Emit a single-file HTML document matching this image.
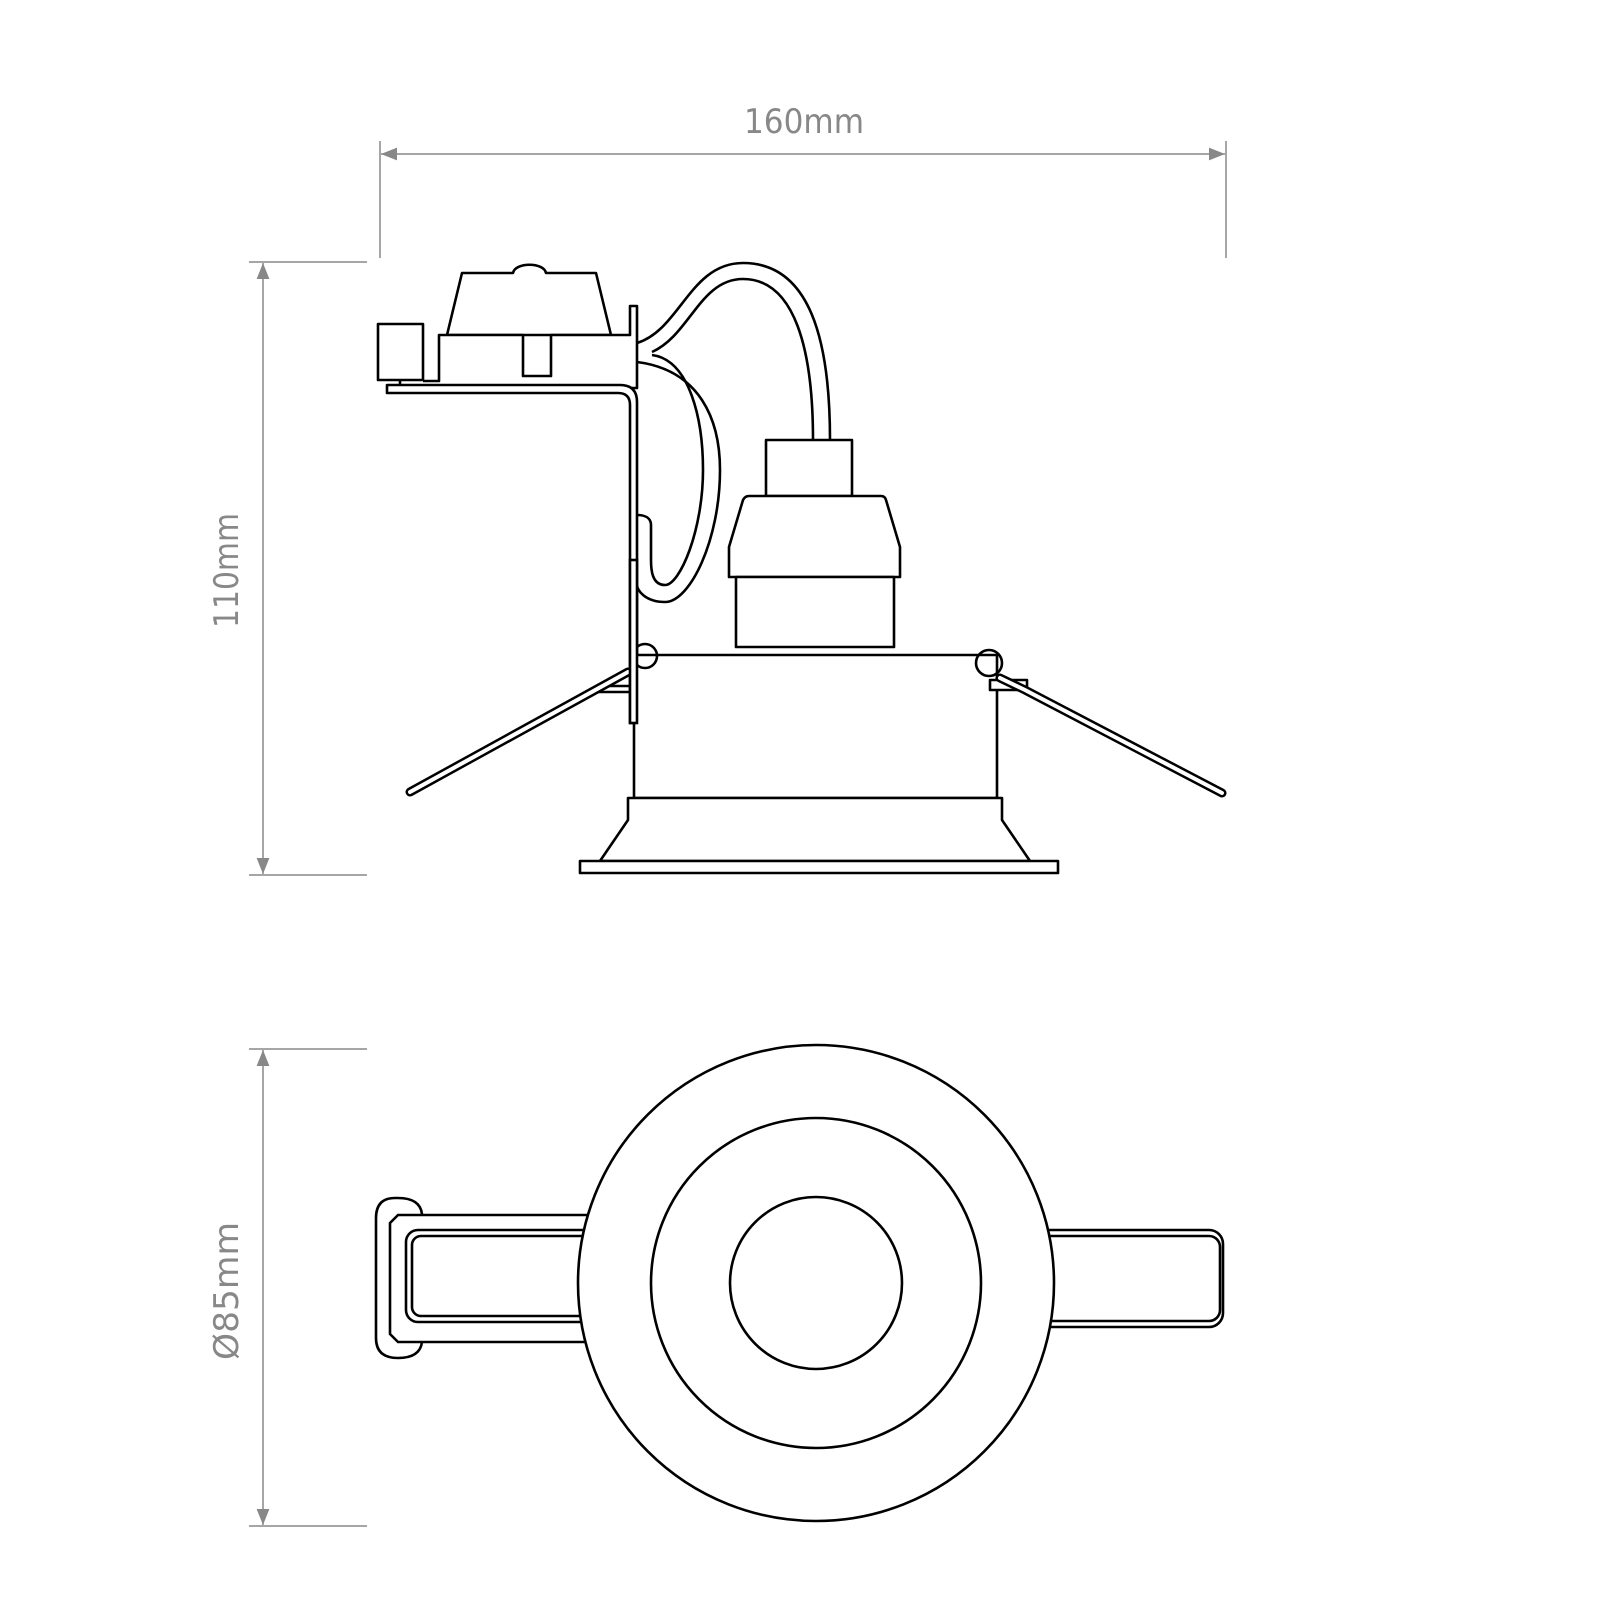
<!DOCTYPE html>
<html><head><meta charset="utf-8"><style>html,body{margin:0;padding:0;background:#fff}svg{display:block}</style></head>
<body>
<svg width="1600" height="1600" viewBox="0 0 1600 1600" xmlns="http://www.w3.org/2000/svg">
<defs>
<marker id="ar" viewBox="0 0 10 10" refX="10" refY="5" markerWidth="16" markerHeight="16" markerUnits="userSpaceOnUse" orient="auto-start-reverse"><path d="M0,1 L10,5 L0,9 Z" fill="#888"/></marker>
</defs>
<g stroke="#888" stroke-width="1.5" fill="none">
<line x1="380" y1="141" x2="380" y2="258"/>
<line x1="1226" y1="141" x2="1226" y2="258"/>
<line x1="381" y1="154" x2="1225" y2="154" marker-start="url(#ar)" marker-end="url(#ar)"/>
<line x1="249" y1="262" x2="367" y2="262"/>
<line x1="249" y1="875" x2="367" y2="875"/>
<line x1="263" y1="263" x2="263" y2="874" marker-start="url(#ar)" marker-end="url(#ar)"/>
<line x1="249" y1="1049" x2="367" y2="1049"/>
<line x1="249" y1="1526" x2="367" y2="1526"/>
<line x1="263" y1="1050" x2="263" y2="1525" marker-start="url(#ar)" marker-end="url(#ar)"/>
</g>
<g fill="#888" font-family="'DejaVu Sans','Liberation Sans',sans-serif" font-size="34" font-weight="normal">
<text x="744" y="133" textLength="120" lengthAdjust="spacingAndGlyphs">160mm</text>
<text transform="translate(238,628) rotate(-90)" textLength="115" lengthAdjust="spacingAndGlyphs">110mm</text>
<text transform="translate(238,1360) rotate(-90)" textLength="138" lengthAdjust="spacingAndGlyphs">Ø85mm</text>
</g>
<g stroke="#000" stroke-width="2.6" fill="#fff" stroke-linejoin="round">
<path d="M637,343 C680,330 690,263 743,263 C810,263 830,340 830,440" fill="none"/>
<path d="M652,352 C690,335 700,279 743,279 C795,279 813,350 813,440" fill="none"/>
<path d="M637,362 C700,370 720,420 720,470 C720,540 690,602 665,602 C645,602 637,590 637,585" fill="none"/>
<path d="M652,355 C690,360 703,420 703,470 C703,530 680,585 665,585 C652,585 651,570 651,560 L651,525 C651,518 645,515 637,515" fill="none"/>
<path d="M462,273 L513,273 C515,262 544,262 546,273 L596,273 L611,335 L447,335 Z"/>
<rect x="378" y="324" width="45" height="56"/>
<path d="M423,381 L439,381 L439,335 L523,335 L523,376 L551,376 L551,335 L630,335 L630,306 L637,306 L637,388 L439,388"/>
<path d="M387,385 L620,385 Q637,385 637,402 L637,723 L630,723 L630,405 Q630,393 618,393 L387,393 Z"/>
<line x1="400" y1="381" x2="400" y2="385"/>
<rect x="766" y="440" width="86" height="56"/>
<path d="M749,496 L881,496 Q885,496 886,500 L900,547 L900,577 L729,577 L729,547 L743,500 Q745,496 749,496 Z"/>
<rect x="736" y="577" width="158" height="70"/>
<rect x="634" y="655" width="363" height="143"/>
<path d="M628,798 L1002,798 L1002,820 L1030,861 L600,861 L628,820 Z"/>
<rect x="580" y="861" width="478" height="12"/>
<circle cx="645" cy="656" r="12" fill="none"/>
<circle cx="989" cy="663" r="13" fill="none"/>
<path d="M598,686 L630,686 L630,692 L598,692" fill="#fff"/>
<path d="M990,680 L1027,680 L1027,690 L990,690 Z"/>
</g>
<g stroke-linecap="round" fill="none">
<line x1="628" y1="672" x2="410" y2="792" stroke="#000" stroke-width="9"/>
<line x1="628" y1="672" x2="410" y2="792" stroke="#fff" stroke-width="4"/>
<path d="M1000,678 L1025,690 L1222,793" stroke="#000" stroke-width="9"/>
<path d="M1000,678 L1025,690 L1222,793" stroke="#fff" stroke-width="4"/>
<rect x="630" y="560" width="7" height="163" fill="#fff" stroke="#000" stroke-width="2.6"/>
</g>
<g stroke="#000" stroke-width="2.6" fill="#fff">
<path d="M398,1198 L395,1198 Q376,1198 376,1218 L376,1338 Q376,1358 398,1358 Q420,1358 422,1342 L422,1214 Q420,1198 398,1198 Z"/>
<path d="M398,1215 L600,1215 L600,1342 L398,1342 L390,1334 L390,1223 Z"/>
<rect x="406" y="1230" width="200" height="92" rx="12"/>
<rect x="412" y="1236" width="200" height="80" rx="9"/>
<rect x="1030" y="1230" width="193" height="97" rx="14"/>
<rect x="1030" y="1236" width="190" height="85" rx="11"/>
<circle cx="816" cy="1283" r="238"/>
<circle cx="816" cy="1283" r="165"/>
<circle cx="816" cy="1283" r="86"/>
</g>
</svg>
</body></html>
